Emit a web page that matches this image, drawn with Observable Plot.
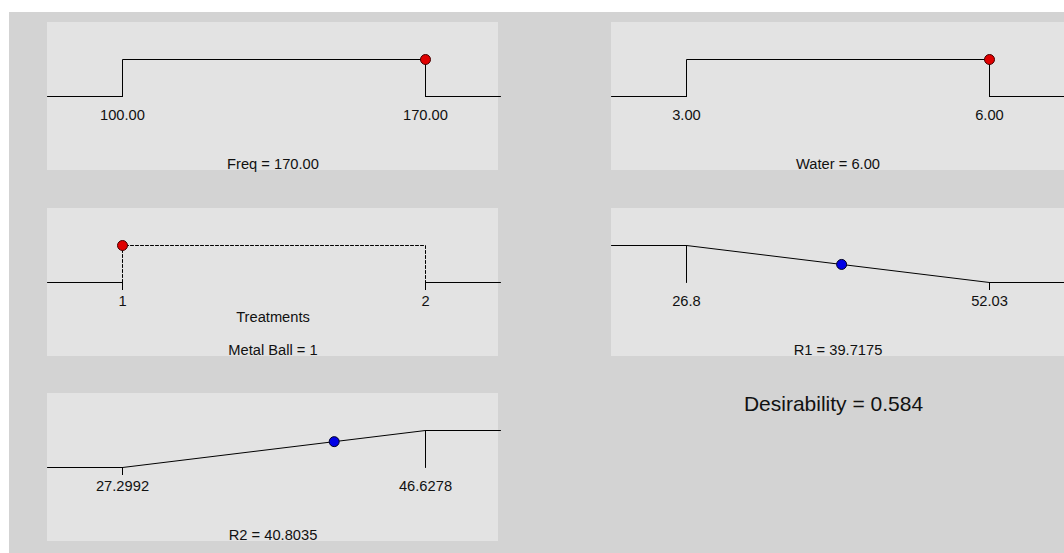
<!DOCTYPE html>
<html>
<head>
<meta charset="utf-8">
<script src="https://cdn.jsdelivr.net/npm/d3@7"></script>
<script src="https://cdn.jsdelivr.net/npm/@observablehq/plot@0.6"></script>
<style>
  body { margin: 0; background: #fff; }
  #root { position: relative; width: 1064px; height: 553px; overflow: hidden; background: #fff;
          font-family: "Liberation Sans", Arial, sans-serif; }
  #bg { position: absolute; left: 9px; top: 12px; right: 0; bottom: 0; background: #d3d3d3; }
  #overall { position: absolute; left: 608px; width: 451px; top: 393px; text-align: center;
             font-size: 21px; line-height: 1; color: #111; }
</style>
</head>
<body>
<div id="root"><div id="bg"></div><div id="overall"></div></div>
<script>
// ---------------- data ----------------
const factorNames = ["Freq", "Water", "Metal Ball"];
const factorLow = [100, 3, 1];
const factorHigh = [170, 6, 2];
const factorSetting = [170, 6, 1];
const factorDecimals = [2, 2, 0];
const factorIsCategorical = [false, false, true];
const categoricalAxisTitle = "Treatments";

const responseNames = ["R1", "R2"];
const responseLow = [26.8, 27.2992];
const responseHigh = [52.03, 46.6278];
const responseLowLabel = ["26.8", "27.2992"];
const responseHighLabel = ["52.03", "46.6278"];
const responsePredicted = [39.7175, 40.8035];
const responseGoal = ["minimize", "maximize"];

const overallDesirability = 0.584;

// ---------------- layout ----------------
const root = document.getElementById("root");
const H = 148;
const slots = [
  {left: 47, top: 22, width: 451},
  {left: 611, top: 22, width: 453},
  {left: 47, top: 208, width: 451},
  {left: 611, top: 208, width: 453},
  {left: 47, top: 393, width: 451}
];
const xRange = [75, 378];
const yRange = [74, 37];
const tickLen = 8;
const labelDy = 19;
const lineOverhang = 2;
const ink = "#111";
const lineColor = "#000";

// helpers that use the same scale definitions as the plots, to find the panel edges
function edges(slot, lo, hi) {
  const sx = d3.scaleLinear().domain([lo, hi]).range(xRange);
  const sy = d3.scaleLinear().domain([0, 1]).range(yRange);
  return {
    xLeft: sx.invert(0),
    xRight: sx.invert(slot.width + lineOverhang),
    dTick: sy.invert(yRange[0] + tickLen)
  };
}

function addPanel(slot, lo, hi, marks) {
  const svg = Plot.plot({
    width: slot.width,
    height: H,
    margin: 0,
    x: {domain: [lo, hi], range: xRange, axis: null},
    y: {domain: [0, 1], range: yRange, axis: null},
    style: {
      background: "#e3e3e3",
      fontFamily: '"Liberation Sans", Arial, sans-serif',
      fontSize: "14.7px",
      color: ink,
      overflow: "visible",
      position: "absolute",
      left: slot.left + "px",
      top: slot.top + "px",
      maxWidth: "none"
    },
    marks
  });
  root.appendChild(svg);
}

const solid = (rows, extra = {}) => Plot.line(rows, {x: "x", y: "d", stroke: lineColor, strokeWidth: 1, ...extra});
const ticksBelow = (xs, dTick) => Plot.ruleX(xs.map(x => ({x, d1: 0, d2: dTick})), {
  x: "x", y1: "d1", y2: "d2", stroke: lineColor, strokeWidth: 1
});
const title = (t) => Plot.text([t], {
  text: d => d, frameAnchor: "bottom", lineAnchor: "bottom", dy: -2, fill: ink
});
const labels = (rows) => Plot.text(rows, {
  x: "x", y: "d", text: "label", dy: labelDy, fill: ink
});

// ---------------- factor panels ----------------
factorNames.forEach((name, i) => {
  const slot = slots[i];
  const lo = factorLow[i], hi = factorHigh[i], v = factorSetting[i];
  const dec = factorDecimals[i];
  const {xLeft, xRight, dTick} = edges(slot, lo, hi);
  const dv = v >= lo && v <= hi ? 1 : 0;
  const cat = factorIsCategorical[i];
  const marks = [
    solid([{x: xLeft, d: 0}, {x: lo, d: 0}]),
    solid([{x: hi, d: 0}, {x: xRight, d: 0}]),
    solid([{x: lo, d: 0}, {x: lo, d: 1}, {x: hi, d: 1}, {x: hi, d: 0}],
          cat ? {strokeDasharray: "3,2"} : {})
  ];
  if (cat) {
    marks.push(ticksBelow([lo, hi], dTick));
    marks.push(Plot.text([categoricalAxisTitle], {
      text: d => d, frameAnchor: "bottom", lineAnchor: "bottom", dy: -35, fill: ink
    }));
  }
  marks.push(labels([
    {x: lo, d: 0, label: lo.toFixed(dec)},
    {x: hi, d: 0, label: hi.toFixed(dec)}
  ]));
  marks.push(Plot.dot([{x: v, d: dv}], {x: "x", y: "d", r: 5, fill: "#e00000", stroke: "#400", strokeWidth: 1}));
  marks.push(title(`${name} = ${v.toFixed(dec)}`));
  addPanel(slot, lo, hi, marks);
});

// ---------------- response panels ----------------
responseNames.forEach((name, j) => {
  const slot = slots[3 + j];
  const lo = responseLow[j], hi = responseHigh[j], v = responsePredicted[j];
  const {xLeft, xRight, dTick} = edges(slot, lo, hi);
  const minimize = responseGoal[j] === "minimize";
  const dLo = minimize ? 1 : 0, dHi = minimize ? 0 : 1;
  const dv = minimize ? (hi - v) / (hi - lo) : (v - lo) / (hi - lo);
  const xFull = minimize ? lo : hi;
  const marks = [
    solid([{x: xLeft, d: dLo}, {x: lo, d: dLo}, {x: hi, d: dHi}, {x: xRight, d: dHi}]),
    solid([{x: xFull, d: 1}, {x: xFull, d: 0}]),
    ticksBelow([minimize ? hi : lo], dTick),
    labels([
      {x: lo, d: 0, label: responseLowLabel[j]},
      {x: hi, d: 0, label: responseHighLabel[j]}
    ]),
    Plot.dot([{x: v, d: dv}], {x: "x", y: "d", r: 5, fill: "#0000e6", stroke: "#002", strokeWidth: 1}),
    title(`${name} = ${v}`)
  ];
  addPanel(slot, lo, hi, marks);
});

document.getElementById("overall").textContent = `Desirability = ${overallDesirability.toFixed(3)}`;
</script>
</body>
</html>
